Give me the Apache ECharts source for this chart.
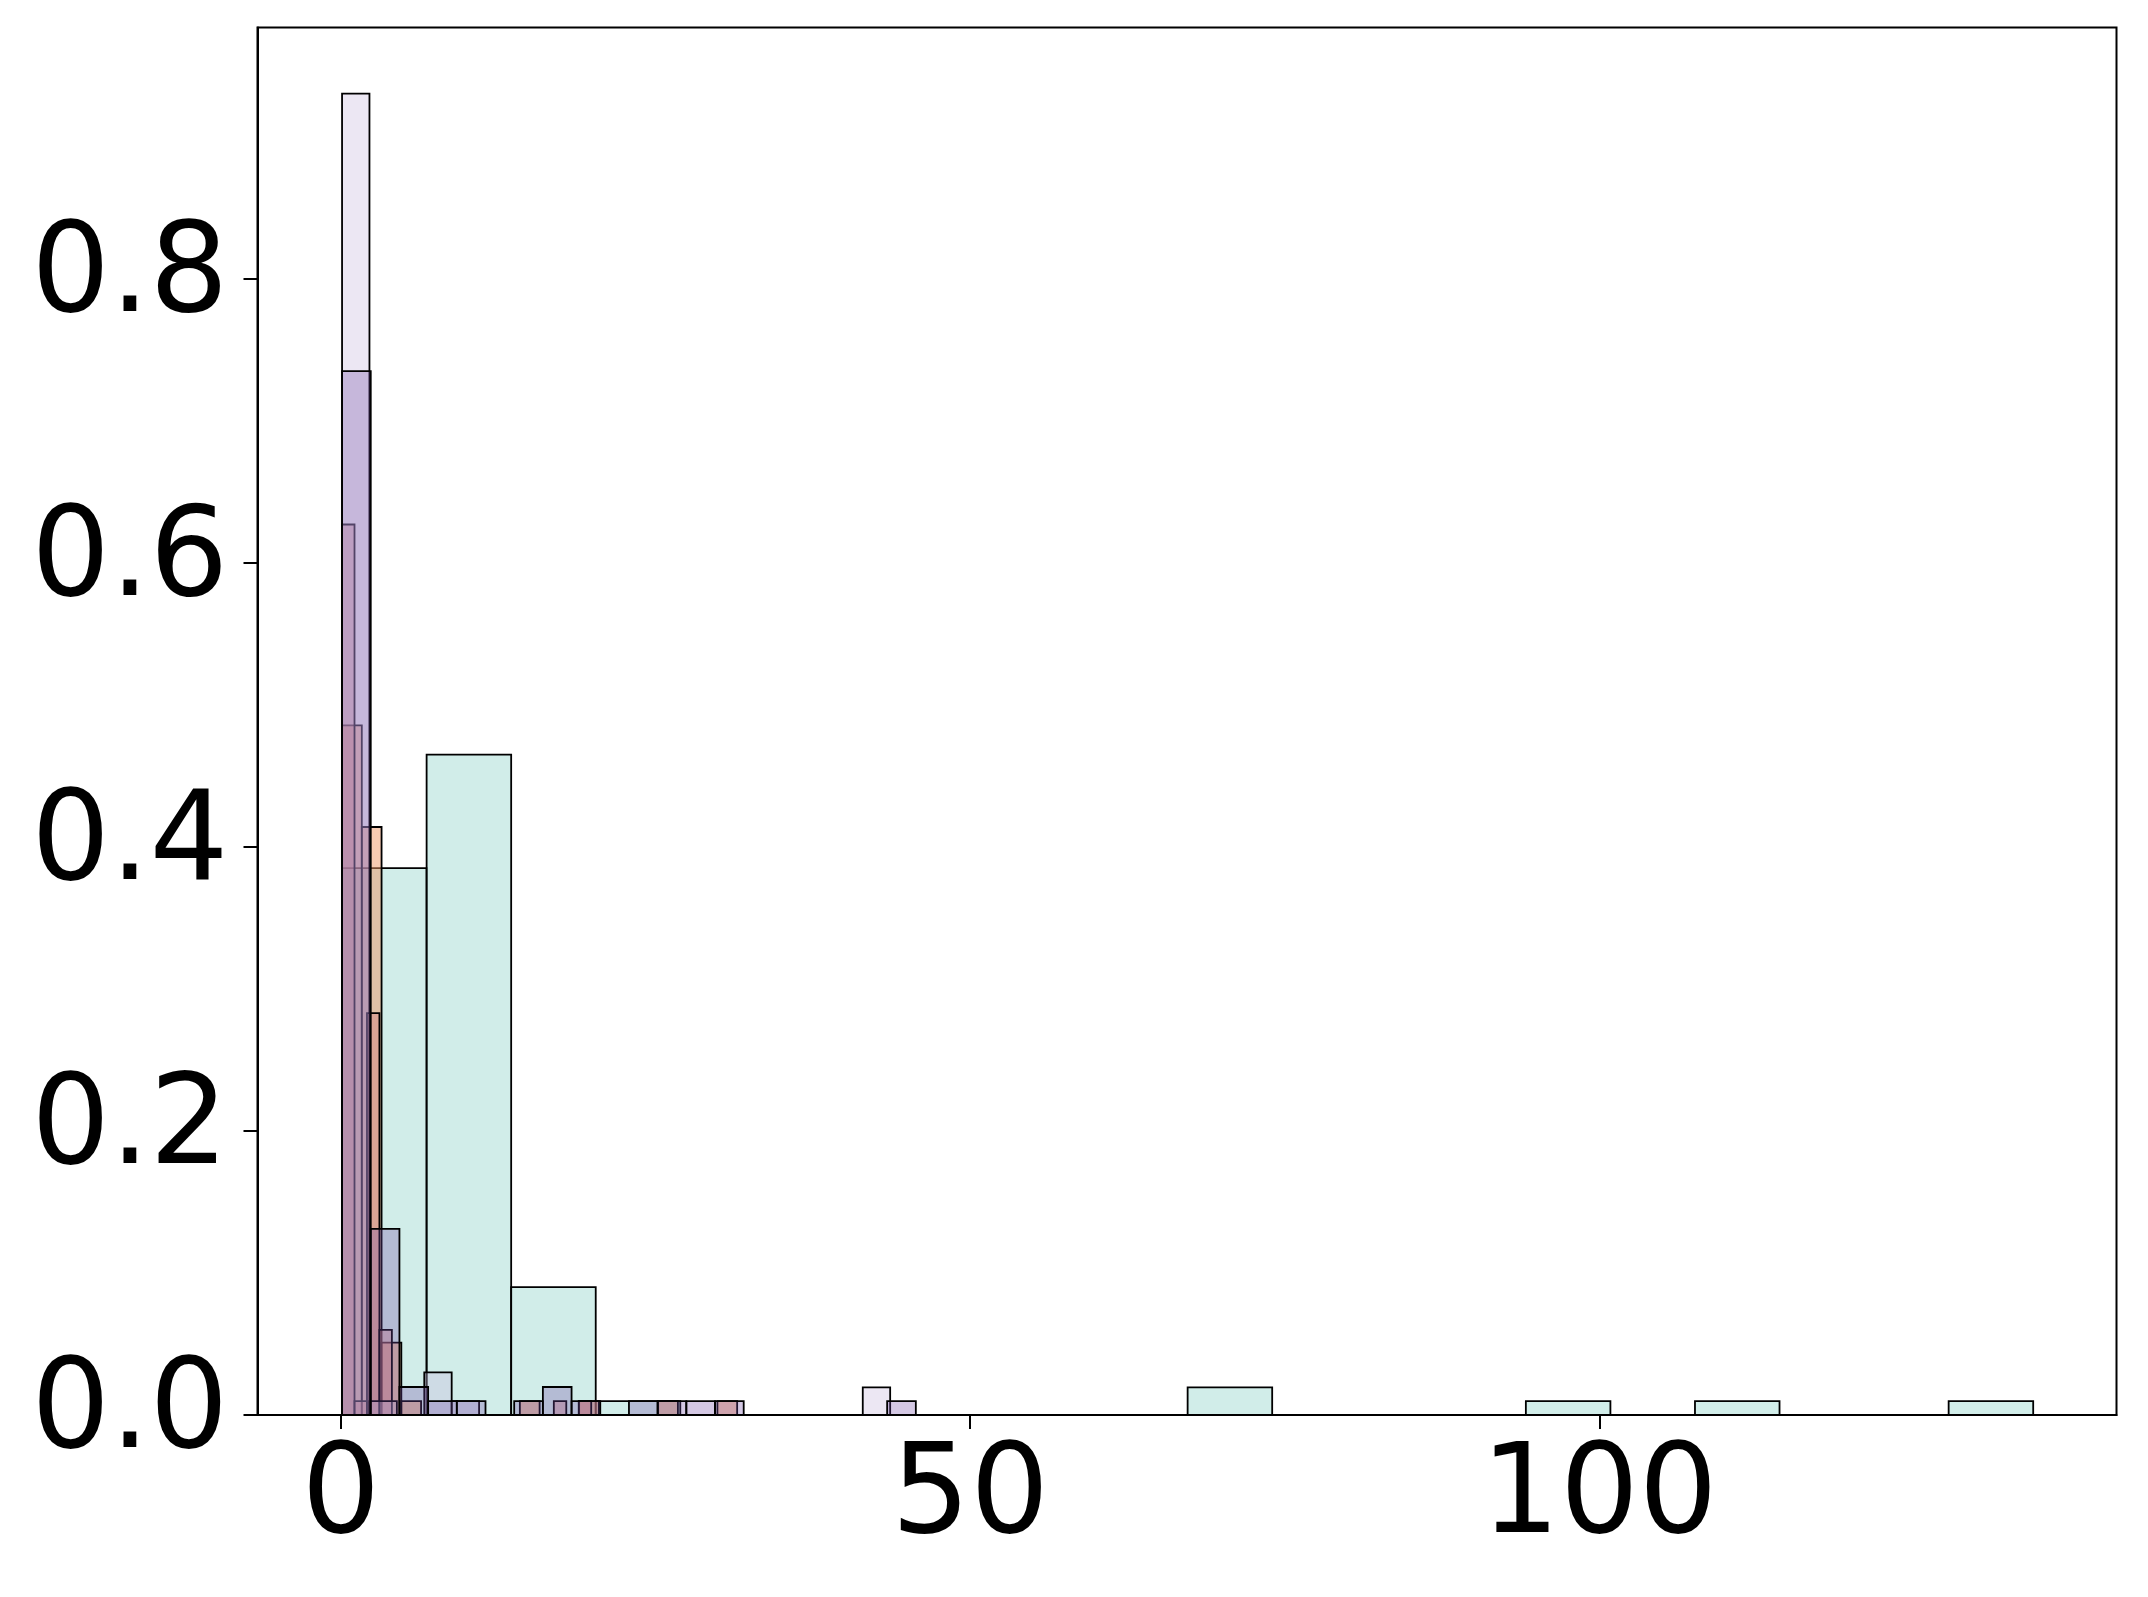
<!DOCTYPE html>
<html>
<head>
<meta charset="utf-8">
<script src="https://cdn.jsdelivr.net/npm/echarts@6/dist/echarts.min.js"></script>
<style>
    html, body { margin: 0; padding: 0; background: #fff; }
    #chart { width: 2148px; height: 1597px; }
</style>
</head>
<body>
<div id="chart"></div>
<script>
    var xTicks = [0, 50, 100];
    var yTicks = [0, 0.2, 0.4, 0.6, 0.8];

    // =================================================================================
    // histograms: first edge, bin width, bar heights (probability per bin)
    var tealStart = 0.08, tealWidth = 6.72;
    var tealHeights = [0.385, 0.465, 0.09, 0.0097, 0, 0, 0, 0, 0, 0,
                       0.0194, 0, 0, 0, 0.0097, 0, 0.0097, 0, 0, 0.0097];

    var orangeStart = 0.08, orangeWidth = 1.57;
    var orangeHeights = [0.4855, 0.414, 0.051, 0.0097, 0, 0, 0, 0, 0, 0.0097,
                         0, 0, 0.0097, 0, 0, 0, 0.0097, 0, 0, 0.0097];

    var roseStart = 0.08, roseWidth = 0.99;
    var roseHeights = [0.627, 0.0097, 0.283, 0.060, 0, 0, 0, 0, 0, 0,
                       0, 0, 0, 0, 0, 0, 0, 0.0097, 0, 0.0097];

    var paleStart = 0.08, paleWidth = 2.178;
    var paleHeights = [0.9304, 0.0097, 0, 0.030, 0.0097, 0, 0, 0, 0, 0,
                       0, 0, 0, 0, 0, 0, 0, 0, 0, 0.0194];

    var purpleStart = 0.08, purpleWidth = 2.28;
    var purpleHeights = [0.735, 0.131, 0.0197, 0.0097, 0.0097, 0, 0.0097, 0.0197, 0.0097, 0,
                         0.0097, 0.0097, 0.0097, 0.0097, 0, 0, 0, 0, 0, 0.0097];

    function binData(start, width, heights) {
        var res = [];
        for (var i = 0; i < heights.length; i++) {
            if (heights[i] > 0) {
                res.push([start + i * width, start + (i + 1) * width, heights[i]]);
            }
        }
        return res;
    }

    function renderBar(params, api) {
        var topLeft = api.coord([api.value(0), api.value(2)]);
        var bottomRight = api.coord([api.value(1), 0]);
        return {
            type: 'rect',
            shape: {
                x: topLeft[0],
                y: topLeft[1],
                width: bottomRight[0] - topLeft[0],
                height: bottomRight[1] - topLeft[1]
            },
            style: {
                fill: api.visual('color'),
                stroke: '#000',
                lineWidth: 1.8
            }
        };
    }

    function histSeries(name, color, data) {
        return {
            name: name,
            type: 'custom',
            renderItem: renderBar,
            itemStyle: { color: color },
            encode: { x: [0, 1], y: 2 },
            data: data
        };
    }

    var hist_chart = echarts.init(document.getElementById('chart'));

    var labelFont = {
        fontFamily: 'DejaVu Sans',
        fontSize: 124,
        color: '#000'
    };

    var option_hist = {
        animation: false,
        grid: {
            left: 257.5,
            right: 31.5,
            top: 27.4,
            bottom: 182,
            show: true,
            borderColor: '#000',
            borderWidth: 2,
            backgroundColor: 'transparent'
        },
        xAxis: {
            type: 'value',
            min: -6.64,
            max: 141.1,
            axisLine: { show: true, onZero: false, lineStyle: { color: '#000', width: 2 } },
            axisTick: { show: true, length: 14, lineStyle: { color: '#000', width: 2 }, customValues: xTicks },
            axisLabel: Object.assign({ margin: 23, customValues: xTicks }, labelFont),
            splitLine: { show: false }
        },
        yAxis: {
            type: 'value',
            min: 0,
            max: 0.977,
            axisLine: { show: true, onZero: false, lineStyle: { color: '#000', width: 2 } },
            axisTick: { show: true, length: 14, lineStyle: { color: '#000', width: 2 }, customValues: yTicks },
            axisLabel: Object.assign({
                margin: 29,
                customValues: yTicks,
                formatter: function (v) { return v.toFixed(1); }
            }, labelFont),
            splitLine: { show: false }
        },
        series: [
            histSeries('teal', 'rgba(141,211,199,0.4)', binData(tealStart, tealWidth, tealHeights)),
            histSeries('orange', 'rgba(240,150,100,0.5)', binData(orangeStart, orangeWidth, orangeHeights)),
            histSeries('rose', 'rgba(210,130,130,0.45)', binData(roseStart, roseWidth, roseHeights)),
            histSeries('pale', 'rgba(200,185,220,0.35)', binData(paleStart, paleWidth, paleHeights)),
            histSeries('purple', 'rgba(112,72,165,0.3)', binData(purpleStart, purpleWidth, purpleHeights))
        ]
    };

    hist_chart.setOption(option_hist);
</script>
</body>
</html>
